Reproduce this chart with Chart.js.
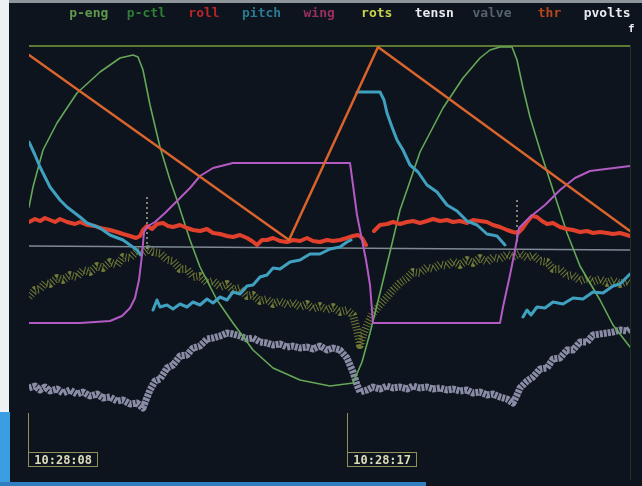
<!DOCTYPE html>
<html><head><meta charset="utf-8">
<script src="https://cdn.jsdelivr.net/npm/chart.js@4.4.1/dist/chart.umd.min.js"></script>
<style>
html,body{margin:0;padding:0;background:#0e141c;}
#wrap{position:relative;width:642px;height:486px;overflow:hidden;background:#0d141d;}
#topStrip{position:absolute;left:0;top:0;width:642px;height:3px;background:#8e969c;}
#leftStrip{position:absolute;left:0;top:0;width:9px;height:486px;background:#eef1f4;}
#leftBlue{position:absolute;left:0;top:412px;width:10px;height:74px;background:#3a9fe2;}
#bottomBlue{position:absolute;left:0;top:482px;width:426px;height:4px;background:#2f7fc0;}
#rightLine{position:absolute;left:630px;top:45px;width:1px;height:435px;background:#1d3324;}
canvas{position:absolute;left:0;top:0;}
#legend{position:absolute;left:60px;top:4px;width:576px;height:18px;display:flex;font:bold 13px "DejaVu Sans Mono",monospace;line-height:18px;}
#legend span{flex:1;text-align:center;white-space:nowrap;}
#fmark{position:absolute;left:628px;top:22px;font:bold 11px "DejaVu Sans Mono",monospace;color:#e6ecef;}
.stamp{position:absolute;top:413px;}
.stamp .tick{width:0;height:39px;border-left:1.5px solid #8f9058;}
.stamp .box{border:1.5px solid #8f9058;padding:0 5px;height:13px;line-height:13px;font:bold 12px "DejaVu Sans Mono",monospace;color:#dcdcb8;white-space:nowrap;}
</style></head>
<body>
<div id="wrap">
  <div id="topStrip"></div>
  <div id="leftStrip"></div>
  <div id="leftBlue"></div>
  <div id="bottomBlue"></div>
  <div id="rightLine"></div>
  <canvas id="c" width="642" height="486"></canvas>
  <div id="legend"></div>
  <div id="fmark">f</div>
</div>
<script>
// x = sample index, y = raw counts
const seriesNames = ['p-eng','p-ctl','roll','pitch','wing','rots','tensn','valve','thr','pvolts'];
const stampSamples = [0, 319];
const stampLabels = ['10:28:08','10:28:17'];

const pEngX = [0,4,14,28,48,71,91,104,109,114,121,131,141,148,161,171,188,204,224,244,271,301,324,333,341,351,361,371,378,391,414,434,451,461,471,483,488,494,501,511,524,538,551,571,584,601];
const pEngY = [258,278,315,342,372,393,407,410,408,395,360,318,285,265,225,198,165,142,115,97,85,79,82,103,132,172,213,255,275,313,357,387,407,415,418,418,405,377,348,315,275,232,199,165,140,118];

const pCtlX = [0,601];
const pCtlY = [419,419];

const rollX = [0,6,11,16,21,26,31,38,46,51,58,66,71,81,88,94,101,107,111,114,118,123,128,134,139,144,151,158,164,171,178,184,191,198,204,211,218,223,228,233,238,244,251,258,264,271,278,284,291,298,304,311,318,324,329,333,337,341,345,351,358,364,371,378,384,391,398,404,411,418,424,431,438,444,451,458,464,471,478,484,489,493,498,503,508,513,518,524,531,538,544,551,558,564,571,578,584,591,598,601];
const rollY = [243,246,244,247,245,243,246,243,241,243,240,239,237,235,233,231,229,227,229,235,239,236,241,242,239,238,240,237,235,234,236,232,231,229,228,230,227,224,220,225,225,227,224,223,225,224,227,224,223,225,224,225,227,229,230,227,220,null,234,240,241,243,241,243,244,242,244,246,244,245,243,244,242,245,244,243,240,238,235,233,232,236,243,249,248,244,241,242,238,236,235,233,234,232,233,232,231,232,230,229];

const pitchX = [0,6,11,21,31,38,51,58,71,81,94,108,112,118,124,128,131,138,144,151,158,164,171,178,184,191,198,204,211,218,224,231,238,244,251,261,271,281,291,301,311,318,322,325,328,339,351,355,358,363,368,374,381,389,398,408,418,428,438,448,458,468,476,485,494,498,502,508,516,524,534,544,554,564,574,584,591,598,601];
const pitchY = [323,310,298,278,265,258,248,242,237,230,225,215,210,null,155,165,158,160,156,161,158,163,160,166,162,168,165,173,171,179,180,188,190,197,196,203,205,211,211,216,218,223,225,null,373,373,373,365,352,338,325,315,300,293,280,273,260,254,244,240,231,229,220,null,148,155,150,158,157,163,161,167,166,173,172,179,181,188,191];

const wingX = [0,51,81,93,101,106,110,113,115,119,126,136,148,161,171,184,204,321,324,328,333,337,341,344,471,474,481,486,490,501,516,531,546,561,601];
const wingY = [142,142,144,149,157,167,185,210,233,239,243,252,264,277,289,297,302,302,280,250,225,205,180,142,142,158,190,215,237,248,260,275,287,294,299];

const rotsX = [0,6,11,16,21,28,34,41,48,54,61,68,74,81,88,94,101,108,114,119,124,131,138,144,151,158,164,171,178,184,191,198,204,211,218,224,231,238,244,251,258,264,271,278,284,291,298,304,311,318,324,328,331,334,338,344,351,358,364,371,378,384,391,398,404,411,418,424,431,438,444,451,458,464,471,478,484,491,498,504,511,518,524,531,538,544,551,558,564,571,578,584,591,598,601];
const rotsY = [168,175,176,182,181,187,185,190,188,195,193,199,197,203,200,208,207,214,212,216,213,212,205,204,196,196,188,189,182,184,178,181,175,177,169,170,164,166,161,164,160,163,158,161,156,159,155,158,153,155,150,135,120,130,140,152,160,168,175,182,187,193,192,198,196,201,199,204,200,205,202,207,203,208,206,211,208,212,207,210,204,203,196,196,189,190,184,187,183,186,182,185,181,184,182];

const tensnX = [0,6,11,16,21,28,34,41,48,54,61,68,74,81,88,94,101,108,114,117,121,126,131,138,144,151,158,164,171,178,184,191,198,204,211,218,224,231,238,244,251,258,264,271,278,284,291,298,304,311,318,324,328,331,338,344,351,358,364,371,378,384,391,398,404,411,418,424,431,438,444,451,458,464,471,478,484,488,491,498,504,511,518,524,531,538,544,551,558,564,571,578,584,591,598,601];
const tensnY = [77,79,75,78,74,76,72,75,71,73,69,71,67,68,64,65,61,62,57,65,75,84,86,97,100,109,110,117,119,126,127,129,132,131,129,126,127,123,122,120,121,118,119,117,118,116,119,115,117,115,107,93,80,73,75,78,76,79,77,78,76,79,77,78,76,77,75,76,74,75,72,73,70,71,68,66,62,70,77,84,88,96,97,106,107,115,115,123,123,130,131,132,133,135,134,136];

const valveX = [118,118,300,488,488];
const valveY = [268,215,null,265,220];

const thrX = [0,260,349,601];
const thrY = [410,225,418,234];

const pvoltsX = [0,150,301,450,601];
const pvoltsY = [219,218,217,216,215];

function pts(xs, ys){ return xs.map((x,i)=>({x:x, y:ys[i]})); }

const legendColors = ['#5f9a4f','#2f7f35','#b8262a','#2b7a94','#9a2f5c','#c9d24a','#e6ecef','#56636e','#b8461e','#e6ecef'];

const lg = document.getElementById('legend');
seriesNames.forEach((n,i)=>{ const s=document.createElement('span'); s.textContent=n; s.style.color=legendColors[i]; lg.appendChild(s); });

const stampEls = stampLabels.map(t=>{
  const d=document.createElement('div'); d.className='stamp';
  d.innerHTML='<div class="tick"></div><div class="box"></div>';
  d.querySelector('.box').textContent=t;
  document.getElementById('wrap').appendChild(d);
  return d;
});

const stampPlugin = {
  id:'stamps',
  afterDraw(chart){
    stampSamples.forEach((s,i)=>{
      stampEls[i].style.left = (chart.scales.x.getPixelForValue(s) - 0.75) + 'px';
    });
  }
};

function ds(label, data, color, width, extra){
  return Object.assign({label, data, borderColor:color, backgroundColor:color, borderWidth:width,
    pointRadius:0, tension:0, spanGaps:false, fill:false, borderJoinStyle:'round', borderCapStyle:'round'}, extra||{});
}

new Chart(document.getElementById('c'), {
  type:'line',
  data:{ datasets:[
    ds(seriesNames[8], pts(thrX,thrY), '#d9642c', 2.5),
    ds(seriesNames[4], pts(wingX,wingY), '#b45ac4', 2),
    ds(seriesNames[3], pts(pitchX,pitchY), '#3fa0c0', 3),
    ds(seriesNames[2], pts(rollX,rollY), '#e0402c', 4),
    ds(seriesNames[0], pts(pEngX,pEngY), '#65a858', 1.6),
    ds(seriesNames[1], pts(pCtlX,pCtlY), '#5d7a34', 2),
    ds(seriesNames[9], pts(pvoltsX,pvoltsY), '#7f8a96', 1.5),
    ds(seriesNames[5], pts(rotsX,rotsY), 'rgba(178,188,70,0.6)', 8, {borderDash:[1,2], borderCapStyle:'butt'}),
    ds(seriesNames[6], pts(tensnX,tensnY), 'rgba(205,205,238,0.65)', 7, {borderDash:[3,1], borderCapStyle:'butt'}),
    ds(seriesNames[7], pts(valveX,valveY), 'rgba(205,205,170,0.6)', 2, {borderDash:[2,3], borderCapStyle:'butt'})
  ]},
  options:{
    responsive:false, animation:false,
    layout:{padding:{left:29,right:12,top:35,bottom:11}},
    plugins:{legend:{display:false}, tooltip:{enabled:false}},
    scales:{
      x:{type:'linear', min:0, max:601, display:false},
      y:{type:'linear', min:-10, max:430, display:false}
    }
  },
  plugins:[stampPlugin]
});
</script>
</body></html>
